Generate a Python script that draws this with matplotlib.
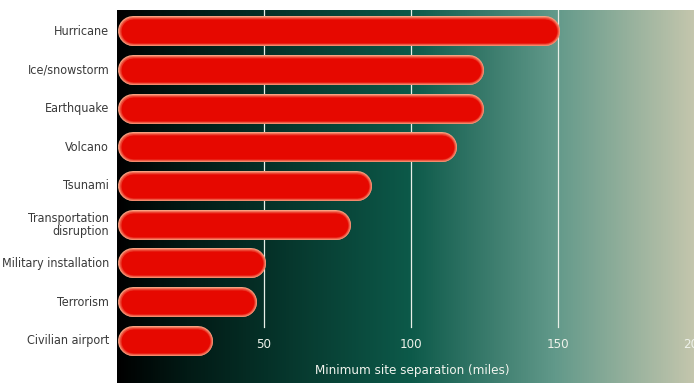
import numpy as np
import matplotlib
matplotlib.use("Agg")
import matplotlib.pyplot as plt
from matplotlib.colors import LinearSegmentedColormap, to_rgb

plt.rcParams["font.family"] = ["DejaVu Sans"]
plt.rcParams["font.stretch"] = "condensed"

# data
categories = ["Hurricane", "Ice/snowstorm", "Earthquake", "Volcano", "Tsunami",
              "Transportation\ndisruption", "Military installation",
              "Terrorism", "Civilian airport"]
separation = [150, 124, 124, 115, 86, 79, 50, 47, 32]
tick_values = [50, 100, 150, 200]
x_label = "Minimum site separation (miles)"

fig = plt.figure(figsize=(6.94, 3.83), dpi=100)
ax = fig.add_axes([116.5 / 694, 0, 1 - 116.5 / 694, 1 - 10 / 383])
XMAX = 577.5 / 2.945
YTOP, YBOT = -0.542, 9.084
ax.set_xlim(0, XMAX)
ax.set_ylim(YBOT, YTOP)
ax.axis("off")

# horizontal gradient background
bg = LinearSegmentedColormap.from_list("bg", [
    (0.0, "#000000"), (0.12, "#021a15"), (0.26, "#053128"), (0.51, "#0d5a4a"),
    (0.76, "#62998a"), (1.0, "#c4c6ad")])
grad = np.linspace(0, 1, 512).reshape(1, -1)
ax.imshow(grad, cmap=bg, aspect="auto", extent=(0, XMAX, YBOT, YTOP), zorder=0)

# grid lines
for v in tick_values[:-1]:
    ax.plot([v, v], [YTOP, 7.64], color="#e8efe8", lw=0.9, zorder=1)

# rounded glowing bars (stacked thick lines with round caps)
px = 2.945  # pixels per unit
h_px = 30
red = np.array(to_rgb("#e60800"))
glow = np.array(to_rgb("#f8a080"))
layers = 12
for i, val in enumerate(separation):
    x0 = 0.6 + h_px / 2 / px
    x1 = val + 0.7 - h_px / 2 / px
    for k in range(layers):
        t = k / (layers - 1)
        w = h_px * (1 - 0.4 * t)
        m = min(t / 0.55, 1)
        c = glow * (1 - m) + red * m
        ax.plot([x0, x1], [i, i], color=c, lw=w * 0.72,
                solid_capstyle="round", zorder=2 + k)

# category labels
for i, name in enumerate(categories):
    ax.text(-2.5, i, name, ha="right", va="center", fontsize=9,
            color="#3a3a3a", linespacing=1.0, clip_on=False)

# tick labels and axis label inside the plot (last one runs off the edge)
for v in tick_values:
    ax.text(v, 8.08, str(v), ha="center" if v < 200 else "right", va="center",
            fontsize=9.5, color="#eef2ea", zorder=20, clip_on=False)
ax.text(100.3, 8.75, x_label, ha="center", va="center", fontsize=9.5,
        color="#f2f4ee", zorder=20)

fig.savefig("out.png", dpi=100)
